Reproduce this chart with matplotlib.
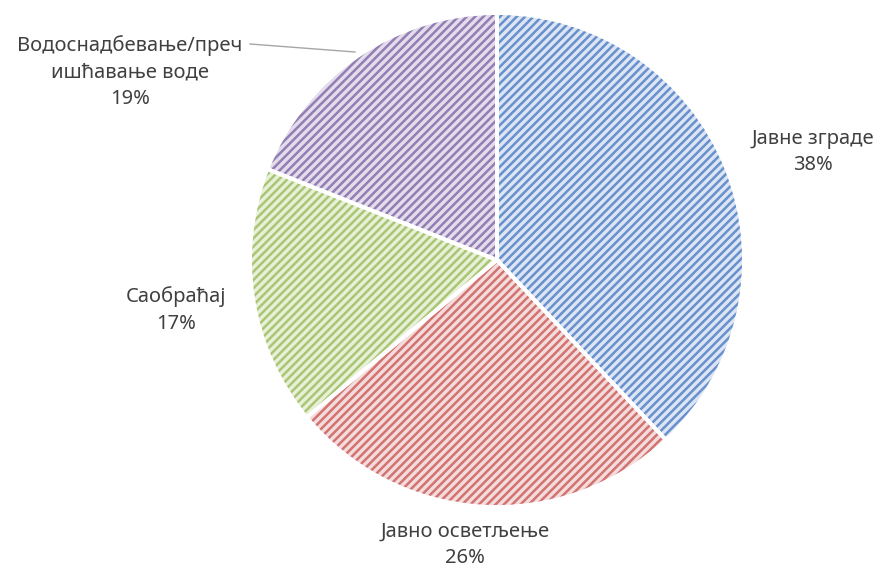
import matplotlib
matplotlib.use('Agg')
import matplotlib.pyplot as plt

labels = ['Јавне зграде', 'Јавно осветљење', 'Саобраћај', 'Водоснадбевање/преч\nишћавање воде']
shares = [38, 26, 17, 19]
light = ['#dce5f4', '#f4dcdc', '#e8f0d8', '#e3dcec']
dark = ['#6890cc', '#d27371', '#a9c675', '#927eb2']

plt.rcParams['font.family'] = ['Noto Sans', 'DejaVu Sans']
plt.rcParams['hatch.linewidth'] = 1.8

fig = plt.figure(figsize=(8.83, 5.68), dpi=100)
ax = fig.add_axes([0, 0, 1, 1])

c = (497, 568 - 260)
r = 247
kw = dict(startangle=90, counterclock=False, center=c, radius=r, frame=True)

# light fill
ax.pie(shares, colors=light, wedgeprops=dict(linewidth=0), **kw)
# hatch stripes in the darker colour
w2, _ = ax.pie(shares, colors=light, wedgeprops=dict(linewidth=0), **kw)
for w, col in zip(w2, dark):
    w.set_facecolor('none')
    w.set_edgecolor(col)
    w.set_hatch('////')
# white borders
ax.pie(shares, colors=['none'] * 4, wedgeprops=dict(edgecolor='white', linewidth=2.8), **kw)
ax.set_xlim(0, 883)
ax.set_ylim(0, 568)
ax.set_aspect('equal')
ax.axis('off')

tc = '#404040'
fs = 14.5
pos = [(813, 152), (465, 545), (176, 310), (130, 72)]
for (x, y), lab, s in zip(pos, labels, shares):
    ax.text(x, 568 - y, f'{lab}\n{s}%', ha='center', va='center', fontsize=fs,
            color=tc, linespacing=1.45)

ax.plot([250, 355], [568 - 44, 568 - 52], color='#a6a6a6', linewidth=1)

fig.savefig('out.png', dpi=100)
